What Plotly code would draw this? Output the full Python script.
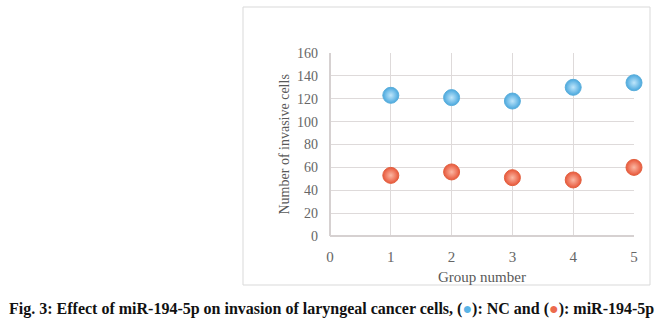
import plotly.graph_objects as go

groups = [1, 2, 3, 4, 5]
nc_values = [123, 121, 118, 130, 134]
mir_values = [53, 56, 51, 49, 60]
x_ticks = [0, 1, 2, 3, 4, 5]
y_ticks = [0, 20, 40, 60, 80, 100, 120, 140, 160]

W, H = 661, 327
L, R, T, B = 330, 634, 53, 236

fig = go.Figure()
fig.add_trace(go.Scatter(
    x=groups, y=nc_values, mode="markers", name="NC", cliponaxis=False,
    marker=dict(size=16, color="#4aa8de",
                gradient=dict(type="radial", color="#bfe6fb"),
                line=dict(width=1, color="#5aaedb"))))
fig.add_trace(go.Scatter(
    x=groups, y=mir_values, mode="markers", name="miR-194-5p", cliponaxis=False,
    marker=dict(size=16, color="#e8573a",
                gradient=dict(type="radial", color="#fbb8a4"),
                line=dict(width=1, color="#e2603f"))))

serif = "Liberation Serif, Times New Roman, serif"
fig.update_layout(
    width=W, height=H, autosize=False,
    margin=dict(l=L, r=W - R, t=T, b=H - B, pad=0),
    paper_bgcolor="white", plot_bgcolor="white",
    showlegend=False,
    font=dict(family=serif, color="#666666", size=14),
    xaxis=dict(range=[0, 5], tickvals=x_ticks, ticktext=[str(v) for v in x_ticks],
               showgrid=True, gridcolor="#dedada", gridwidth=1, zeroline=True,
               zerolinecolor="#d6d1d1", showline=False, ticks="",
               ticklabelstandoff=10, tickfont=dict(size=15, color="#666666")),
    yaxis=dict(range=[0, 160], tickvals=y_ticks, ticktext=[str(v) for v in y_ticks],
               showgrid=True, gridcolor="#dedada", gridwidth=1, zeroline=True,
               zerolinecolor="#d6d1d1", showline=False, ticks="",
               ticklabelstandoff=11, tickfont=dict(size=14, color="#666666")),
)

# y axis title
fig.add_annotation(xref="paper", yref="paper", x=(284 - L) / (R - L), y=0.5,
                   text="Number of invasive cells", textangle=-90, showarrow=False,
                   font=dict(family=serif, size=14, color="#595959"),
                   xanchor="center", yanchor="middle")
# x axis title
fig.add_annotation(xref="paper", yref="paper", x=(482 - L) / (R - L),
                   y=(B - 277) / (B - T), text="Group number", showarrow=False,
                   font=dict(family=serif, size=15, color="#595959"),
                   xanchor="center", yanchor="middle")
# caption
fig.add_annotation(xref="paper", yref="paper", x=(331 - L) / (R - L),
                   y=(B - 309) / (B - T),
                   text="<b>Fig. 3: Effect of miR-194-5p on invasion of laryngeal cancer cells, "
                        "(<span style='color:#5ab4e6'>●</span>): NC and "
                        "(<span style='color:#ec6a4c'>●</span>): miR-194-5p</b>",
                   showarrow=False, font=dict(family=serif, size=16, color="#111111"),
                   xanchor="center", yanchor="middle")
# outer chart box
fig.add_shape(type="rect", xref="paper", yref="paper",
              x0=(243 - L) / (R - L), x1=(650 - L) / (R - L),
              y0=(B - 285) / (B - T), y1=(B - 7) / (B - T),
              line=dict(color="#d9d9d9", width=1), fillcolor="rgba(0,0,0,0)", layer="below")

fig.write_html("out.html")
